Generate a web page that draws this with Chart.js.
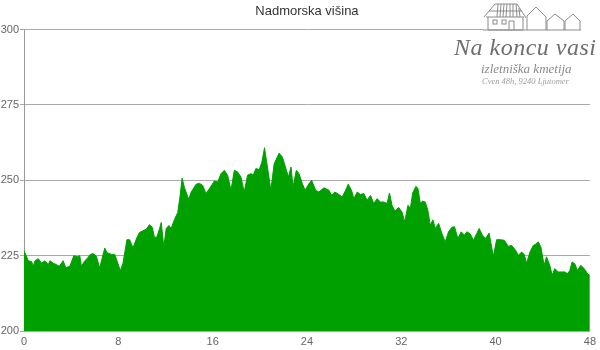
<!DOCTYPE html>
<html>
<head>
<meta charset="utf-8">
<script src="https://cdn.jsdelivr.net/npm/chart.js@4"></script>
<style>
  html, body { margin: 0; padding: 0; background: #fff; }
  #wrap { position: relative; width: 600px; height: 350px; }
  #logo { position: absolute; left: 0; top: 0; width: 600px; height: 100px; pointer-events: none; }
  #logo .bg { position: absolute; left: 483px; top: 0; width: 117px; height: 36px; background: #fff; }
  #logo svg { position: absolute; left: 0; top: 0; }
  #logo .name { position: absolute; left: 454px; top: 34px; font: italic 24px "Liberation Serif", serif; color: #6e6e6e; white-space: nowrap; letter-spacing: 0.5px; }
  #logo .sub { position: absolute; left: 481px; top: 61px; font: italic 13px "Liberation Serif", serif; color: #8a8a8a; white-space: nowrap; }
  #logo .addr { position: absolute; left: 482px; top: 76px; font: italic 8.5px "Liberation Serif", serif; color: #a0a0a0; white-space: nowrap; }
</style>
</head>
<body>
<div id="wrap">
  <canvas id="chart" width="600" height="350"></canvas>
  <div id="logo">
    <div class="bg"></div>
    <svg width="600" height="40" viewBox="0 0 600 40">
      <g fill="none" stroke="#8c8c8c" stroke-width="1">
        <!-- big house -->
        <polyline points="484,17 495,4 517,4 526,18"/>
        <line x1="489" y1="11" x2="522" y2="11"/>
        <line x1="498" y1="4" x2="497" y2="17"/><line x1="501" y1="4" x2="500" y2="17"/>
        <line x1="504" y1="4" x2="503" y2="17"/><line x1="507" y1="4" x2="506" y2="17"/>
        <line x1="510" y1="4" x2="510" y2="17"/><line x1="513" y1="4" x2="513" y2="17"/>
        <line x1="516" y1="4" x2="517" y2="17"/><line x1="519" y1="8" x2="520" y2="17"/>
        <line x1="486" y1="17" x2="524" y2="17"/>
        <polyline points="488,17 488,30 523,30 523,17"/>
        <rect x="493" y="20" width="4" height="4"/>
        <rect x="502" y="20" width="4" height="4"/>
        <polyline points="509,30 509,21 514,21 514,30"/>
        <!-- small houses -->
        <polyline points="527,30 527,16 536,7 546,17 546,30"/>
        <polyline points="547,30 547,21 555,14 564,21 564,30"/>
        <polyline points="565,30 565,21 573,14 580,21 580,30"/>
        <line x1="483" y1="30" x2="581" y2="30"/>
      </g>
    </svg>
    <div class="name">Na koncu vasi</div>
    <div class="sub">izletniška kmetija</div>
    <div class="addr">Cven 48h, 9240 Ljutomer</div>
  </div>
</div>
<script>
const chartTitle = 'Nadmorska višina';

const distanceKm = [
  0, 0.37, 0.65, 0.79, 0.93, 1.21, 1.49, 1.78, 2.06, 2.2, 2.48, 2.76, 2.99, 3.32, 3.55, 3.89,
  4.23, 4.51, 4.73, 4.87, 5.16, 5.35, 5.63, 5.86, 6.14, 6.42, 6.85, 7.04, 7.41, 7.69, 7.89, 8.17,
  8.4, 8.73, 8.96, 9.24, 9.58, 9.8, 10.37, 10.65, 10.88, 11.07, 11.27, 11.5, 11.64, 11.86, 12.06,
  12.29, 12.48, 12.76, 13.04, 13.24, 13.41, 13.61, 13.97, 14.17, 14.6, 14.88,
  15.16, 15.44, 15.72, 16.15, 16.42, 16.71, 16.99, 17.27, 17.56, 17.84, 18.11, 18.4, 18.68, 18.96,
  19.25, 19.44, 19.67, 19.95, 20.18, 20.4, 20.65, 20.94, 21.22, 21.64, 21.92, 22.26, 22.43, 22.65,
  22.82, 23.1, 23.33, 23.61, 23.84, 24.18, 24.4, 24.74, 25.02, 25.44, 25.87, 26.09, 26.37, 26.71,
  26.99, 27.28, 27.5, 27.78, 27.98, 28.26, 28.54, 28.83, 29.1, 29.39, 29.67, 29.95, 30.24, 30.52,
  30.8, 31, 31.22, 31.45, 31.78,
  32.06, 32.29, 32.57, 32.77, 32.97, 33.25, 33.42, 33.62, 33.81, 34.04, 34.26, 34.46, 34.69, 34.88,
  35.17, 35.45, 35.73, 36.01, 36.29, 36.52, 36.8, 37.08, 37.36, 37.56, 37.84, 38.12, 38.4, 38.61,
  38.88, 39.16, 39.45, 39.81, 40.09, 40.38, 40.74, 41.08, 41.36, 41.7, 41.93, 42.21, 42.43, 42.63,
  42.92, 43.2, 43.39, 43.62, 43.84, 44.12, 44.32, 44.6, 44.8, 45.02, 45.31, 45.59, 45.87, 46.1,
  46.3, 46.49, 46.72, 46.94, 47.23, 47.51, 47.84, 48
];

const elevationM = [
  226.6, 223.3, 223, 221.5, 223.3, 224, 222.5, 223.3, 222, 223.3, 222.5, 222, 221.5, 223.3, 221, 221.5,
  225, 224.6, 225, 221.5, 223.3, 224, 225.4, 225.7, 224.8, 220.9, 227.5, 226, 225.4, 225.4, 223.3, 220,
  222.5, 230.3, 230.3, 227.6, 231, 232.7, 233.8, 235.3, 234.4, 231, 231.2, 234, 236, 227.8, 234,
  235, 234, 237, 239.3, 244.8, 250.7, 247.6, 243.7, 246, 248.7, 249,
  248.3, 245.6, 247.2, 249.8, 249.4, 252.2, 253.3, 251.7, 246.7, 253.3, 252.8, 251.1, 246.1, 251.7,
  252.2, 251.7, 253.9, 253.5, 256.1, 260.8, 254.4, 246.7, 255.5, 259, 257.7, 253.3, 251.1, 254.4,
  247.8, 253.3, 252.2, 248.9, 246.7, 248.9, 250, 246.7, 246.1, 247.5, 246.7, 245, 246.1, 245.3,
  244.5, 246.7, 248.7, 246.7, 243.9, 246.1, 245.3, 245.6, 243.4, 245, 242.3, 243.9, 242.8, 242.8,
  242.3, 245.8, 241.7, 239.8, 241,
  239.5, 236.2, 241.7, 240.6, 245.8, 248, 247.2, 242.3, 243.1, 242.8, 240, 235.1, 236.9, 234,
  235.7, 232.3, 229.6, 232.9, 234.4, 234.6, 230.7, 232.9, 231.8, 232.9, 232.3, 230.1, 232.3, 234,
  231.8, 230.7, 232.5, 224.8, 230.3, 230.3, 230.1, 228.1, 228.4, 226.8, 225.1, 226.2, 225.4, 222.5,
  226.2, 228.4, 228.8, 229.6, 227.9, 221.8, 224.6, 221.8, 218.5, 220.7, 219.6, 219.6, 219.6, 219,
  220.1, 222.9, 222.3, 220.1, 221.8, 220.7, 218.8, 218.5
];

const yTicks = [200, 225, 250, 275, 300];
const xTicks = [0, 8, 16, 24, 32, 40, 48];

const points = distanceKm.map((x, i) => ({ x, y: elevationM[i] }));

new Chart(document.getElementById('chart'), {
  type: 'line',
  data: {
    datasets: [
      {
        data: points,
        borderColor: '#00a000',
        backgroundColor: '#00a000',
        borderWidth: 1,
        pointRadius: 0,
        fill: 'start',
        tension: 0
      }
    ]
  },
  options: {
    responsive: false,
    animation: false,
    parsing: false,
    layout: {
      padding: { left: 0, right: 8, top: 4, bottom: 0 }
    },
    plugins: {
      legend: { display: false },
      tooltip: { enabled: false },
      title: {
        display: true,
        text: chartTitle,
        fullSize: false,
        color: '#333',
        font: { family: '"Liberation Sans", Arial, sans-serif', size: 13, weight: 'normal' },
        padding: { top: 0, bottom: 10 }
      }
    },
    scales: {
      x: {
        type: 'linear',
        min: 0,
        max: 48,
        afterBuildTicks: (scale) => {
          scale.ticks = xTicks.map((value) => ({ value }));
        },
        afterFit: (scale) => {
          scale.height = 19;
        },
        ticks: {
          color: '#666',
          font: { family: '"Liberation Sans", Arial, sans-serif', size: 11 },
          maxRotation: 0,
          padding: 4
        },
        grid: { display: false, drawTicks: false, tickLength: 0 },
        border: { display: false }
      },
      y: {
        min: 200,
        max: 300,
        afterBuildTicks: (scale) => {
          scale.ticks = yTicks.map((value) => ({ value }));
        },
        afterFit: (scale) => {
          scale.width = 24;
        },
        ticks: {
          color: '#666',
          font: { family: '"Liberation Sans", Arial, sans-serif', size: 11 },
          padding: 1
        },
        grid: {
          color: '#aaa',
          tickLength: 4
        },
        border: { color: '#999' }
      }
    }
  }
});
</script>
</body>
</html>
